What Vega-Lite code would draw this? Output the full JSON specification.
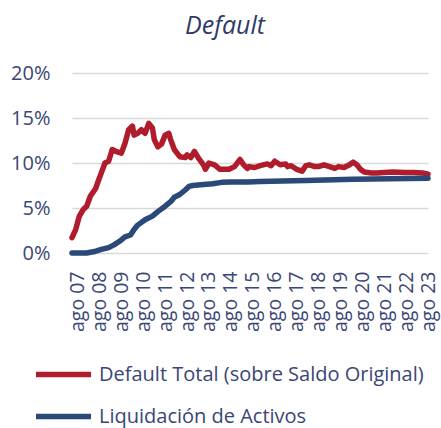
{
  "$schema": "https://vega.github.io/schema/vega-lite/v6.json",
  "autosize": {"type": "none"},
  "width": 356,
  "height": 180,
  "padding": {"left": 72, "top": 73, "right": 13, "bottom": 175},
  "background": "white",
  "title": {
    "text": "Default",
    "font": "Open Sans",
    "fontSize": 25,
    "fontStyle": "italic",
    "fontWeight": "normal",
    "color": "#2f3a6b",
    "anchor": "middle",
    "frame": "group",
    "dx": -25,
    "offset": 24
  },
  "config": {
    "view": {"stroke": null},
    "font": "Open Sans"
  },
  "data": {
    "values": [
      {"date": "2007-05-01", "series": "Default Total (sobre Saldo Original)", "value": 0.017},
      {"date": "2007-07-01", "series": "Default Total (sobre Saldo Original)", "value": 0.026},
      {"date": "2007-09-01", "series": "Default Total (sobre Saldo Original)", "value": 0.041},
      {"date": "2007-11-01", "series": "Default Total (sobre Saldo Original)", "value": 0.048},
      {"date": "2008-01-01", "series": "Default Total (sobre Saldo Original)", "value": 0.052},
      {"date": "2008-03-01", "series": "Default Total (sobre Saldo Original)", "value": 0.063},
      {"date": "2008-06-01", "series": "Default Total (sobre Saldo Original)", "value": 0.072},
      {"date": "2008-07-01", "series": "Default Total (sobre Saldo Original)", "value": 0.078},
      {"date": "2008-09-01", "series": "Default Total (sobre Saldo Original)", "value": 0.089},
      {"date": "2008-11-01", "series": "Default Total (sobre Saldo Original)", "value": 0.100},
      {"date": "2009-01-01", "series": "Default Total (sobre Saldo Original)", "value": 0.102},
      {"date": "2009-03-01", "series": "Default Total (sobre Saldo Original)", "value": 0.115},
      {"date": "2009-05-01", "series": "Default Total (sobre Saldo Original)", "value": 0.113},
      {"date": "2009-08-01", "series": "Default Total (sobre Saldo Original)", "value": 0.111},
      {"date": "2009-10-01", "series": "Default Total (sobre Saldo Original)", "value": 0.122},
      {"date": "2009-12-01", "series": "Default Total (sobre Saldo Original)", "value": 0.137},
      {"date": "2010-02-01", "series": "Default Total (sobre Saldo Original)", "value": 0.141},
      {"date": "2010-03-01", "series": "Default Total (sobre Saldo Original)", "value": 0.131},
      {"date": "2010-05-01", "series": "Default Total (sobre Saldo Original)", "value": 0.133},
      {"date": "2010-07-01", "series": "Default Total (sobre Saldo Original)", "value": 0.137},
      {"date": "2010-09-01", "series": "Default Total (sobre Saldo Original)", "value": 0.133},
      {"date": "2010-11-01", "series": "Default Total (sobre Saldo Original)", "value": 0.144},
      {"date": "2011-01-01", "series": "Default Total (sobre Saldo Original)", "value": 0.139},
      {"date": "2011-02-01", "series": "Default Total (sobre Saldo Original)", "value": 0.126},
      {"date": "2011-04-01", "series": "Default Total (sobre Saldo Original)", "value": 0.118},
      {"date": "2011-06-01", "series": "Default Total (sobre Saldo Original)", "value": 0.121},
      {"date": "2011-08-01", "series": "Default Total (sobre Saldo Original)", "value": 0.131},
      {"date": "2011-10-01", "series": "Default Total (sobre Saldo Original)", "value": 0.133},
      {"date": "2011-11-01", "series": "Default Total (sobre Saldo Original)", "value": 0.126},
      {"date": "2012-01-01", "series": "Default Total (sobre Saldo Original)", "value": 0.115},
      {"date": "2012-04-01", "series": "Default Total (sobre Saldo Original)", "value": 0.107},
      {"date": "2012-07-01", "series": "Default Total (sobre Saldo Original)", "value": 0.106},
      {"date": "2012-08-01", "series": "Default Total (sobre Saldo Original)", "value": 0.109},
      {"date": "2012-10-01", "series": "Default Total (sobre Saldo Original)", "value": 0.106},
      {"date": "2012-12-01", "series": "Default Total (sobre Saldo Original)", "value": 0.113},
      {"date": "2013-02-01", "series": "Default Total (sobre Saldo Original)", "value": 0.106},
      {"date": "2013-05-01", "series": "Default Total (sobre Saldo Original)", "value": 0.098},
      {"date": "2013-06-01", "series": "Default Total (sobre Saldo Original)", "value": 0.093},
      {"date": "2013-08-01", "series": "Default Total (sobre Saldo Original)", "value": 0.100},
      {"date": "2013-11-01", "series": "Default Total (sobre Saldo Original)", "value": 0.098},
      {"date": "2014-02-01", "series": "Default Total (sobre Saldo Original)", "value": 0.093},
      {"date": "2014-05-01", "series": "Default Total (sobre Saldo Original)", "value": 0.093},
      {"date": "2014-07-01", "series": "Default Total (sobre Saldo Original)", "value": 0.093},
      {"date": "2014-10-01", "series": "Default Total (sobre Saldo Original)", "value": 0.096},
      {"date": "2015-01-01", "series": "Default Total (sobre Saldo Original)", "value": 0.104},
      {"date": "2015-03-01", "series": "Default Total (sobre Saldo Original)", "value": 0.098},
      {"date": "2015-05-01", "series": "Default Total (sobre Saldo Original)", "value": 0.094},
      {"date": "2015-06-01", "series": "Default Total (sobre Saldo Original)", "value": 0.096},
      {"date": "2015-09-01", "series": "Default Total (sobre Saldo Original)", "value": 0.095},
      {"date": "2015-12-01", "series": "Default Total (sobre Saldo Original)", "value": 0.097},
      {"date": "2016-04-01", "series": "Default Total (sobre Saldo Original)", "value": 0.099},
      {"date": "2016-06-01", "series": "Default Total (sobre Saldo Original)", "value": 0.097},
      {"date": "2016-08-01", "series": "Default Total (sobre Saldo Original)", "value": 0.102},
      {"date": "2016-11-01", "series": "Default Total (sobre Saldo Original)", "value": 0.098},
      {"date": "2017-02-01", "series": "Default Total (sobre Saldo Original)", "value": 0.099},
      {"date": "2017-03-01", "series": "Default Total (sobre Saldo Original)", "value": 0.096},
      {"date": "2017-05-01", "series": "Default Total (sobre Saldo Original)", "value": 0.097},
      {"date": "2017-08-01", "series": "Default Total (sobre Saldo Original)", "value": 0.093},
      {"date": "2017-11-01", "series": "Default Total (sobre Saldo Original)", "value": 0.091},
      {"date": "2018-01-01", "series": "Default Total (sobre Saldo Original)", "value": 0.097},
      {"date": "2018-03-01", "series": "Default Total (sobre Saldo Original)", "value": 0.098},
      {"date": "2018-06-01", "series": "Default Total (sobre Saldo Original)", "value": 0.096},
      {"date": "2018-08-01", "series": "Default Total (sobre Saldo Original)", "value": 0.096},
      {"date": "2018-11-01", "series": "Default Total (sobre Saldo Original)", "value": 0.098},
      {"date": "2019-02-01", "series": "Default Total (sobre Saldo Original)", "value": 0.096},
      {"date": "2019-05-01", "series": "Default Total (sobre Saldo Original)", "value": 0.094},
      {"date": "2019-07-01", "series": "Default Total (sobre Saldo Original)", "value": 0.096},
      {"date": "2019-10-01", "series": "Default Total (sobre Saldo Original)", "value": 0.095},
      {"date": "2020-01-01", "series": "Default Total (sobre Saldo Original)", "value": 0.098},
      {"date": "2020-03-01", "series": "Default Total (sobre Saldo Original)", "value": 0.101},
      {"date": "2020-05-01", "series": "Default Total (sobre Saldo Original)", "value": 0.098},
      {"date": "2020-07-01", "series": "Default Total (sobre Saldo Original)", "value": 0.093},
      {"date": "2020-09-01", "series": "Default Total (sobre Saldo Original)", "value": 0.090},
      {"date": "2021-01-01", "series": "Default Total (sobre Saldo Original)", "value": 0.089},
      {"date": "2021-04-01", "series": "Default Total (sobre Saldo Original)", "value": 0.089},
      {"date": "2021-08-01", "series": "Default Total (sobre Saldo Original)", "value": 0.0895},
      {"date": "2022-01-01", "series": "Default Total (sobre Saldo Original)", "value": 0.090},
      {"date": "2022-07-01", "series": "Default Total (sobre Saldo Original)", "value": 0.0895},
      {"date": "2022-12-01", "series": "Default Total (sobre Saldo Original)", "value": 0.0895},
      {"date": "2023-05-01", "series": "Default Total (sobre Saldo Original)", "value": 0.089},
      {"date": "2023-08-01", "series": "Default Total (sobre Saldo Original)", "value": 0.0875},
      {"date": "2007-05-01", "series": "Liquidación de Activos", "value": 0.0},
      {"date": "2008-01-01", "series": "Liquidación de Activos", "value": 0.0},
      {"date": "2008-06-01", "series": "Liquidación de Activos", "value": 0.002},
      {"date": "2008-09-01", "series": "Liquidación de Activos", "value": 0.004},
      {"date": "2009-01-01", "series": "Liquidación de Activos", "value": 0.006},
      {"date": "2009-04-01", "series": "Liquidación de Activos", "value": 0.009},
      {"date": "2009-07-01", "series": "Liquidación de Activos", "value": 0.013},
      {"date": "2009-10-01", "series": "Liquidación de Activos", "value": 0.018},
      {"date": "2010-01-01", "series": "Liquidación de Activos", "value": 0.020},
      {"date": "2010-03-01", "series": "Liquidación de Activos", "value": 0.026},
      {"date": "2010-05-01", "series": "Liquidación de Activos", "value": 0.031},
      {"date": "2010-09-01", "series": "Liquidación de Activos", "value": 0.037},
      {"date": "2011-01-01", "series": "Liquidación de Activos", "value": 0.041},
      {"date": "2011-04-01", "series": "Liquidación de Activos", "value": 0.046},
      {"date": "2011-08-01", "series": "Liquidación de Activos", "value": 0.052},
      {"date": "2011-11-01", "series": "Liquidación de Activos", "value": 0.057},
      {"date": "2012-01-01", "series": "Liquidación de Activos", "value": 0.062},
      {"date": "2012-04-01", "series": "Liquidación de Activos", "value": 0.065},
      {"date": "2012-07-01", "series": "Liquidación de Activos", "value": 0.070},
      {"date": "2012-09-01", "series": "Liquidación de Activos", "value": 0.074},
      {"date": "2012-11-01", "series": "Liquidación de Activos", "value": 0.075},
      {"date": "2013-05-01", "series": "Liquidación de Activos", "value": 0.076},
      {"date": "2013-10-01", "series": "Liquidación de Activos", "value": 0.077},
      {"date": "2014-03-01", "series": "Liquidación de Activos", "value": 0.0785},
      {"date": "2014-08-01", "series": "Liquidación de Activos", "value": 0.079},
      {"date": "2015-05-01", "series": "Liquidación de Activos", "value": 0.079},
      {"date": "2015-12-01", "series": "Liquidación de Activos", "value": 0.0795},
      {"date": "2018-01-01", "series": "Liquidación de Activos", "value": 0.0805},
      {"date": "2020-03-01", "series": "Liquidación de Activos", "value": 0.082},
      {"date": "2023-08-01", "series": "Liquidación de Activos", "value": 0.083}
    ]
  },
  "mark": {"type": "line", "strokeWidth": 5.5, "strokeJoin": "round", "strokeCap": "round"},
  "encoding": {
    "x": {
      "field": "date",
      "type": "temporal",
      "scale": {"type": "utc", "domain": [{"year": 2007, "month": 5, "date": 1, "utc": true}, {"year": 2023, "month": 8, "date": 1, "utc": true}]},
      "axis": {
        "title": null,
        "values": [
          {"year": 2007, "month": 8, "date": 1, "utc": true},
          {"year": 2008, "month": 8, "date": 1, "utc": true},
          {"year": 2009, "month": 8, "date": 1, "utc": true},
          {"year": 2010, "month": 8, "date": 1, "utc": true},
          {"year": 2011, "month": 8, "date": 1, "utc": true},
          {"year": 2012, "month": 8, "date": 1, "utc": true},
          {"year": 2013, "month": 8, "date": 1, "utc": true},
          {"year": 2014, "month": 8, "date": 1, "utc": true},
          {"year": 2015, "month": 8, "date": 1, "utc": true},
          {"year": 2016, "month": 8, "date": 1, "utc": true},
          {"year": 2017, "month": 8, "date": 1, "utc": true},
          {"year": 2018, "month": 8, "date": 1, "utc": true},
          {"year": 2019, "month": 8, "date": 1, "utc": true},
          {"year": 2020, "month": 8, "date": 1, "utc": true},
          {"year": 2021, "month": 8, "date": 1, "utc": true},
          {"year": 2022, "month": 8, "date": 1, "utc": true},
          {"year": 2023, "month": 8, "date": 1, "utc": true}
        ],
        "labelExpr": "'ago ' + utcFormat(datum.value, '%y')",
        "labelAngle": -90,
        "labelAlign": "right",
        "labelBaseline": "middle",
        "labelFont": "Open Sans",
        "labelFontSize": 19.5,
        "labelColor": "#3a4675",
        "labelPadding": 18,
        "labelOverlap": false,
        "labelFlush": false,
        "domain": false,
        "ticks": false,
        "grid": false
      }
    },
    "y": {
      "field": "value",
      "type": "quantitative",
      "scale": {"domain": [0, 0.2]},
      "axis": {
        "title": null,
        "values": [0, 0.05, 0.1, 0.15, 0.2],
        "format": ".0%",
        "labelFont": "Open Sans",
        "labelFontSize": 20,
        "labelColor": "#3a4675",
        "labelPadding": 22,
        "domain": false,
        "ticks": false,
        "grid": true,
        "gridColor": "#d9d9d9",
        "gridWidth": 1.5
      }
    },
    "color": {
      "field": "series",
      "type": "nominal",
      "scale": {
        "domain": ["Default Total (sobre Saldo Original)", "Liquidación de Activos"],
        "range": ["#b01c2c", "#2a4878"]
      },
      "legend": {
        "title": null,
        "orient": "none",
        "legendX": -39,
        "legendY": 271,
        "direction": "vertical",
        "symbolType": "stroke",
        "symbolSize": 3025,
        "symbolStrokeWidth": 5.5,
        "labelFont": "Open Sans",
        "labelFontSize": 20,
        "labelColor": "#3a4675",
        "labelOffset": 5,
        "labelLimit": 400,
        "rowPadding": -13
      }
    }
  }
}
